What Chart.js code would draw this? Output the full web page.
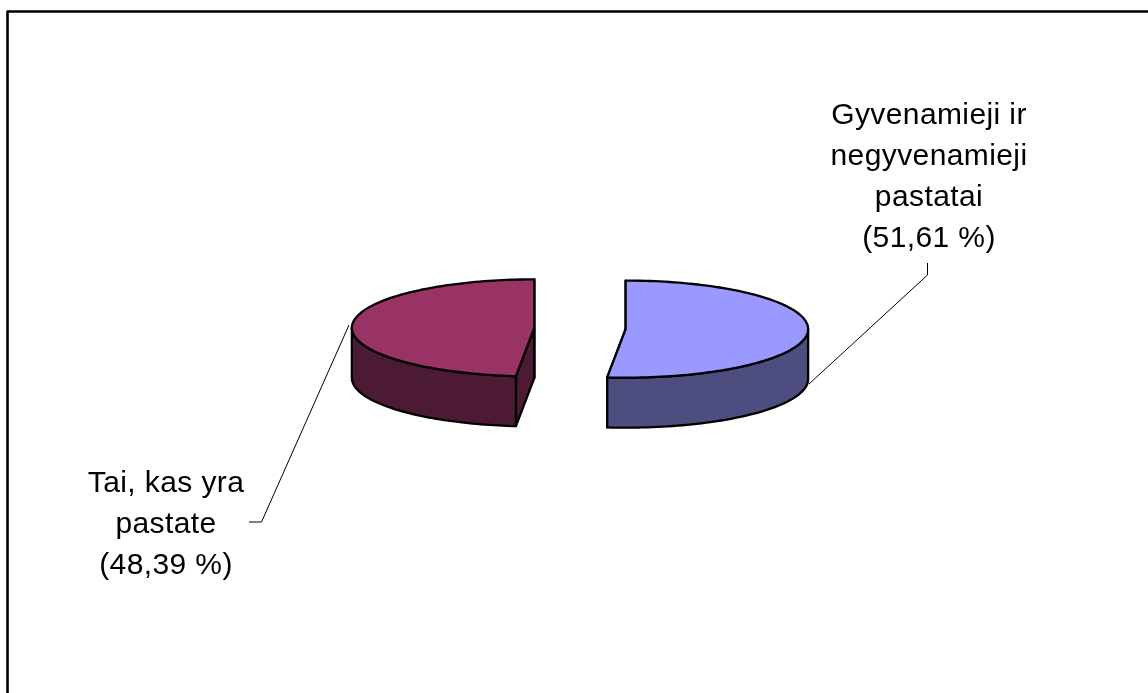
<!DOCTYPE html>
<html>
<head>
<meta charset="utf-8">
<style>
  html, body { margin: 0; padding: 0; background: #fff; }
  canvas { display: block; }
</style>
<script src="https://cdn.jsdelivr.net/npm/chart.js@4"></script>
</head>
<body>
<canvas id="pie" width="1148" height="693"></canvas>
<script>
const categories = ['Gyvenamieji ir negyvenamieji pastatai', 'Tai, kas yra pastate'];
const shares = [51.61, 48.39];
const topColors = ['#9999FF', '#993366'];
const wallColors = ['#4D4D80', '#4D1A33'];
const labelLines = [
  ['Gyvenamieji ir', 'negyvenamieji', 'pastatai', '(51,61 %)'],
  ['Tai, kas yra', 'pastate', '(48,39 %)']
];

const RADIUS = 182.5;    // radius of the flat pie
const EXPLODE = 45.7;    // how far each slice is pulled out along its mid-angle
const TILT = 0.266;      // vertical squash of the pie disc
const DEPTH = 50;        // height of the extruded side wall
const LINE_W = 2.3;

// Geometry of one exploded slice, taken from the library's arc element.
function sliceGeometry(arc) {
  const mid = (arc.startAngle + arc.endAngle) / 2;
  return {
    cx: arc.x + Math.cos(mid) * EXPLODE,
    cy: arc.y + Math.sin(mid) * EXPLODE * TILT,
    r: arc.outerRadius,
    a0: arc.startAngle,
    a1: arc.endAngle,
    dx: Math.cos(mid) * EXPLODE,
    dy: Math.sin(mid) * EXPLODE * TILT
  };
}

function rimPoint(g, a, drop) {
  return [g.cx + Math.cos(a) * g.r, g.cy + Math.sin(a) * g.r * TILT + drop];
}

function outline(ctx, fill) {
  if (fill) {
    ctx.fillStyle = fill;
    ctx.fill();
  }
  ctx.lineWidth = LINE_W;
  ctx.strokeStyle = '#000';
  ctx.lineJoin = 'round';
  ctx.stroke();
}

const pie3d = {
  id: 'pie3d',
  // Side walls sit under the disc: cut faces first, then the curved rim.
  beforeDatasetsDraw(chart) {
    const { ctx } = chart;
    const arcs = chart.getDatasetMeta(0).data;
    arcs.forEach((arc, i) => {
      const g = sliceGeometry(arc);
      [g.a0, g.a1].forEach(a => {
        const e = rimPoint(g, a, 0);
        ctx.beginPath();
        ctx.moveTo(g.cx, g.cy);
        ctx.lineTo(e[0], e[1]);
        ctx.lineTo(e[0], e[1] + DEPTH);
        ctx.lineTo(g.cx, g.cy + DEPTH);
        ctx.closePath();
        outline(ctx, wallColors[i]);
      });
    });
    arcs.forEach((arc, i) => {
      const g = sliceGeometry(arc);
      // Only the part of the rim below the horizon faces the viewer.
      let a = Math.max(g.a0, 0);
      let b = Math.min(g.a1, Math.PI);
      if (a >= b) {
        a = Math.max(g.a0, Math.PI);
        b = Math.min(g.a1, Math.PI * 2);
      }
      // Slices are laid out from -90 degrees, so the lower rim lies in 0..180.
      const steps = 60;
      ctx.beginPath();
      for (let s = 0; s <= steps; s++) {
        const p = rimPoint(g, a + (b - a) * s / steps, 0);
        s ? ctx.lineTo(p[0], p[1]) : ctx.moveTo(p[0], p[1]);
      }
      for (let s = steps; s >= 0; s--) {
        const p = rimPoint(g, a + (b - a) * s / steps, DEPTH);
        ctx.lineTo(p[0], p[1]);
      }
      ctx.closePath();
      outline(ctx, wallColors[i]);
    });
  },
  // The library's own arcs are painted flattened onto the tilted plane.
  beforeDatasetDraw(chart) {
    const { ctx } = chart;
    chart.getDatasetMeta(0).data.forEach(arc => {
      const g = sliceGeometry(arc);
      ctx.save();
      ctx.translate(arc.x + g.dx, arc.y + g.dy);
      ctx.scale(1, TILT);
      ctx.translate(-arc.x, -arc.y);
      arc.draw(ctx, chart.chartArea);
      ctx.restore();
    });
    return false;
  },
  afterDatasetsDraw(chart) {
    const { ctx } = chart;
    const arcs = chart.getDatasetMeta(0).data;
    // Outline of each disc, stroked without the squash so the pen stays even.
    arcs.forEach(arc => {
      const g = sliceGeometry(arc);
      const steps = 120;
      ctx.beginPath();
      ctx.moveTo(g.cx, g.cy);
      for (let s = 0; s <= steps; s++) {
        const p = rimPoint(g, g.a0 + (g.a1 - g.a0) * s / steps, 0);
        ctx.lineTo(p[0], p[1]);
      }
      ctx.closePath();
      outline(ctx, null);
    });
    // Leader lines
    ctx.save();
    ctx.strokeStyle = '#000';
    ctx.lineWidth = 1;
    ctx.beginPath();
    ctx.moveTo(927.5, 263); ctx.lineTo(927.5, 275); ctx.lineTo(809, 384);
    ctx.moveTo(349, 325); ctx.lineTo(261.5, 522); ctx.lineTo(249, 522);
    ctx.stroke();
    ctx.restore();
    // Category labels
    ctx.save();
    ctx.fillStyle = '#000';
    ctx.font = '30px "Liberation Sans", Arial, sans-serif';
    ctx.letterSpacing = '0.4px';
    ctx.textAlign = 'center';
    ctx.textBaseline = 'alphabetic';
    const anchors = [[929, 123.5], [166, 491.5]];
    labelLines.forEach((lines, i) => {
      lines.forEach((t, k) => ctx.fillText(t, anchors[i][0], anchors[i][1] + k * 41.2));
    });
    ctx.restore();
    // Chart frame: only its left and top sides fall on the page
    ctx.save();
    ctx.strokeStyle = '#000';
    ctx.lineWidth = 2.6;
    ctx.beginPath();
    ctx.moveTo(7.5, 693); ctx.lineTo(7.5, 11.5); ctx.lineTo(1148, 11.5);
    ctx.stroke();
    ctx.restore();
  }
};

new Chart(document.getElementById('pie'), {
  type: 'pie',
  data: {
    labels: categories,
    datasets: [{
      data: shares,
      backgroundColor: topColors,
      borderWidth: 0
    }]
  },
  options: {
    responsive: false,
    animation: false,
    radius: RADIUS,
    layout: { padding: { left: 12, bottom: 36 } },
    plugins: { legend: { display: false }, title: { display: false }, tooltip: { enabled: false } }
  },
  plugins: [pie3d]
});
</script>
</body>
</html>
